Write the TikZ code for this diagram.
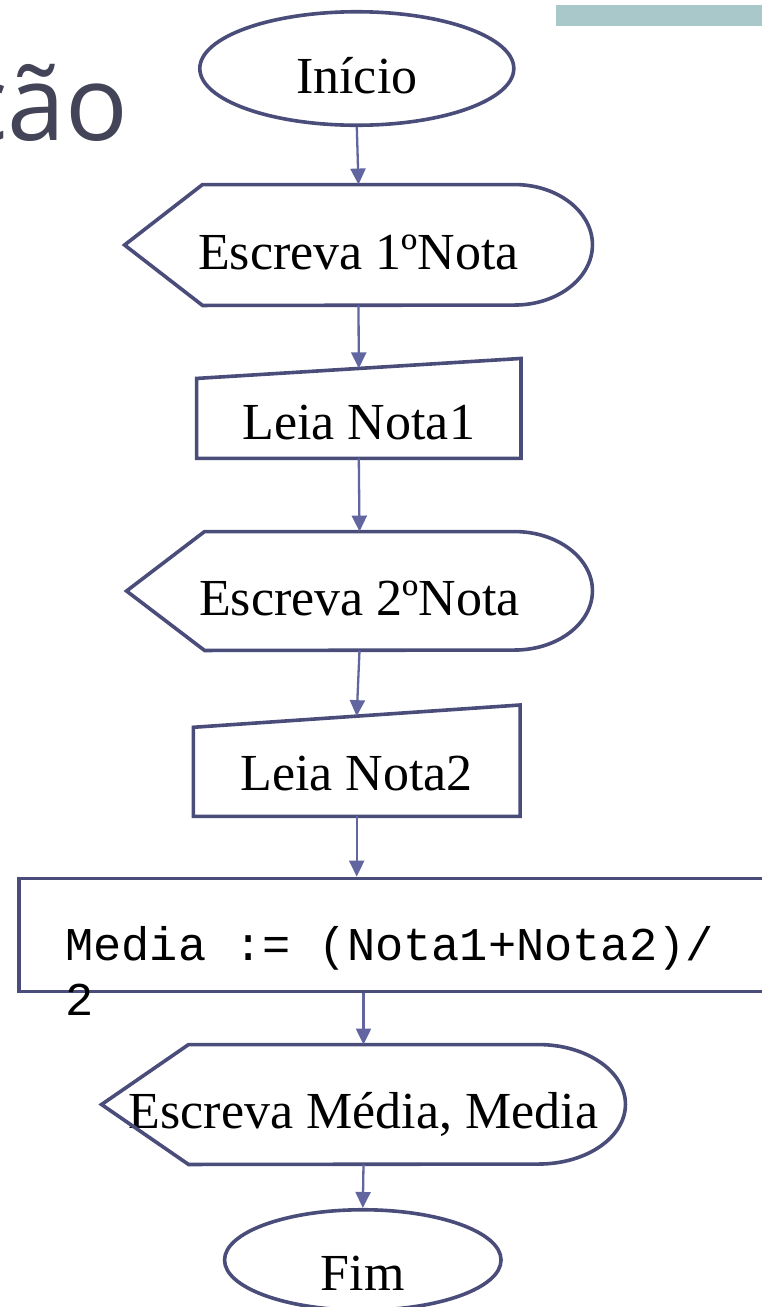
\documentclass[tikz,border=0pt]{standalone}
\usepackage{fontspec}
\setmainfont{Liberation Serif}
\setmonofont{Liberation Mono}
\newfontfamily\titlefont{Open Sans}
\usetikzlibrary{shapes.geometric,arrows.meta,calc}
\definecolor{contorno}{RGB}{74,76,122}
\definecolor{seta}{RGB}{98,102,160}
\definecolor{faixa}{RGB}{169,200,202}
\definecolor{titulo}{RGB}{68,68,88}
\begin{document}
\begin{tikzpicture}[x=1pt,y=1pt,
		terminal/.style={ellipse,draw=contorno,line width=3.6pt,inner sep=0pt,font=\fontsize{52}{60}\selectfont,text depth=0pt},
		caixa/.style={rectangle,inner sep=0pt,font=\fontsize{52}{60}\selectfont,text depth=0pt},
		contor/.style={draw=contorno,line width=3.6pt,line join=miter},
		fluxo/.style={draw=seta,line width=2.3pt,-{Triangle[width=15pt,length=16pt]}}]
		\useasboundingbox (0,0) rectangle (761,-1307);
		\fill[faixa] (556,-5) rectangle (770,-26);
		\node[font=\titlefont\fontsize{104}{110}\selectfont,text=titulo,anchor=base west,inner sep=0pt] (sufixo) at (-42,-140) {ção};
		\node[terminal,minimum width=314pt,minimum height=113.5pt,text height=49pt] (inicio) at (356.8,-68.5) {Início};
		\node[caixa,minimum width=467.5pt,minimum height=120.5pt,text height=48pt] (esc1) at (358.5,-245) {Escreva 1ºNota};
		\node[caixa,minimum width=324pt,minimum height=99.5pt,text height=63pt] (leia1) at (358.8,-408.4) {Leia Nota1};
		\node[caixa,minimum width=465.5pt,minimum height=118.5pt,text height=48pt] (esc2) at (359.5,-591) {Escreva 2ºNota};
		\node[caixa,minimum width=326.3pt,minimum height=111pt,text height=58.6pt] (leia2) at (356.7,-760.7) {Leia Nota2};
		\node[contor,rectangle,minimum width=781pt,minimum height=112.9pt] (media) at (409.25,-934.85) {};
		\node[font=\ttfamily\fontsize{47}{55}\selectfont,align=left,anchor=base west,inner sep=0pt] (mediatxt) at (65,-1015) {Media := (Nota1+Nota2)/\\2};
		\node[caixa,minimum width=523.5pt,minimum height=119.5pt,text height=47pt] (escm) at (363.5,-1104.5) {Escreva Média, Media};
		\node[terminal,minimum width=276.5pt,minimum height=100.5pt,text height=60pt] (fim) at (362.8,-1260) {Fim};
		\foreach \n/\r/\s in {esc1/78/60.25,esc2/78/59.25,escm/87/59.75}
			\draw[contor] (\n.west) -- ([xshift=\r]\n.north west) -- ([xshift=-\r]\n.north east) arc[start angle=90,end angle=-90,x radius=\r,y radius=\s] -- ([xshift=\r]\n.south west) -- cycle;
		\foreach \n in {leia1,leia2}
			\draw[contor] ($(\n.north west)!0.2!(\n.south west)$) -- (\n.north east) -- (\n.south east) -- (\n.south west) -- cycle;
		\draw[fluxo] (inicio.south) -- (esc1.north);
		\draw[fluxo] (esc1.south) -- ($(leia1.north)!0.1!(leia1.south)$);
		\draw[fluxo] (leia1.south) -- (esc2.north);
		\draw[fluxo] (esc2.south) -- ($(leia2.north)!0.1!(leia2.south)$);
		\draw[fluxo] (leia2.south) -- (leia2.south |- media.north);
		\draw[fluxo] (media.south -| escm.north) -- (escm.north);
		\draw[fluxo] (escm.south) -- (fim.north);
\end{tikzpicture}
\end{document}
